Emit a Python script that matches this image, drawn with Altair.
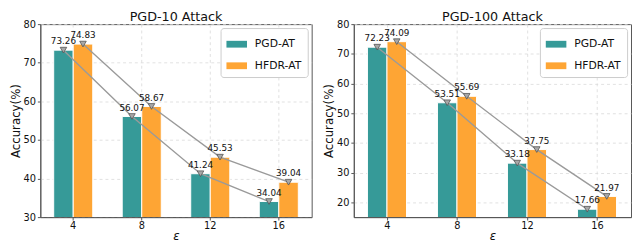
import altair as alt
import pandas as pd

eps = ["4", "8", "12", "16"]
methods = ["PGD-AT", "HFDR-AT"]
pgd10 = [73.26, 56.07, 41.24, 34.04]
hfdr10 = [74.83, 58.67, 45.53, 39.04]
pgd100 = [72.23, 53.51, 33.18, 17.66]
hfdr100 = [74.09, 55.69, 37.75, 21.97]
colors = ["#369a98", "#fea534"]

FONT = "DejaVu Sans"


def make_df(a, b):
    rows = []
    for e, v in zip(eps, a):
        rows.append({"eps": e, "method": methods[0], "value": v})
    for e, v in zip(eps, b):
        rows.append({"eps": e, "method": methods[1], "value": v})
    return pd.DataFrame(rows)


def panel(df, title, domain, ticks, width, height):
    base = alt.Chart(df).encode(
        x=alt.X(
            "eps:N",
            sort=eps,
            title="ε",
            scale=alt.Scale(paddingInner=0.43, paddingOuter=0.195),
            axis=alt.Axis(
                labelAngle=0,
                bandPosition=0.5,
                grid=True,
                titleFontStyle="italic",
                labelPadding=1,
                titlePadding=0,
            ),
        ),
        xOffset=alt.XOffset("method:N", sort=methods, scale=alt.Scale(paddingInner=0, paddingOuter=0)),
        y=alt.Y(
            "value:Q",
            title="Accuracy(%)",
            scale=alt.Scale(domain=domain, nice=False, zero=False),
            axis=alt.Axis(values=ticks, grid=True),
        ),
    )
    bars = base.mark_bar(stroke="white", strokeWidth=1, clip=True).encode(
        color=alt.Color(
            "method:N",
            sort=methods,
            scale=alt.Scale(domain=methods, range=colors),
            legend=alt.Legend(title=None),
        )
    )
    lines = base.mark_line(color="#9a9a9a", strokeWidth=1.4).encode(detail="method:N")
    pts = base.mark_point(
        shape="triangle-down", filled=True, fill="#a8a8a8", stroke="#555555",
        strokeWidth=0.8, size=45, opacity=1
    )
    labels = base.mark_text(dy=-6, baseline="alphabetic", fontSize=9, font=FONT, color="#111").encode(
        text=alt.Text("value:Q", format=".2f")
    )
    return alt.layer(bars, lines, pts, labels).properties(
        width=width,
        height=height,
        title=alt.TitleParams(title, fontSize=13, fontWeight="normal", font=FONT, offset=-5, color="#111"),
    )


left = panel(make_df(pgd10, hfdr10), "PGD-10 Attack", [30, 80], [30, 40, 50, 60, 70, 80], 277, 197)
right = panel(make_df(pgd100, hfdr100), "PGD-100 Attack", [15, 80], [20, 30, 40, 50, 60, 70, 80], 283, 197)

chart = (
    alt.hconcat(left, right, spacing=9)
    .resolve_legend(color="independent")
    .resolve_scale(color="independent")
    .properties(padding={"left": 0, "top": 0, "right": 0, "bottom": 0})
    .configure_view(stroke="#555555", strokeWidth=1)
    .configure_axis(
        labelFont=FONT,
        titleFont=FONT,
        labelFontSize=10,
        titleFontSize=12,
        titleFontWeight="normal",
        labelColor="#111",
        titleColor="#111",
        tickSize=3,
        tickColor="#555555",
        domainColor="#555555",
        labelPadding=2,
        titlePadding=1,
        gridColor="#d8d8d8",
        gridDash=[3, 3],
        gridWidth=0.8,
    )
    .configure_legend(
        orient="top-right",
        offset=4,
        padding=6,
        strokeColor="#cccccc",
        fillColor="white",
        cornerRadius=3,
        labelFont=FONT,
        labelFontSize=11,
        labelColor="#111",
        symbolType="M-1,-0.33L1,-0.33L1,0.33L-1,0.33Z",
        symbolSize=441,
        symbolStrokeWidth=0,
        symbolOpacity=1,
        rowPadding=6,
        labelOffset=8,
    )
)

chart.save("out.html", embed_options={"renderer": "svg", "actions": False})
